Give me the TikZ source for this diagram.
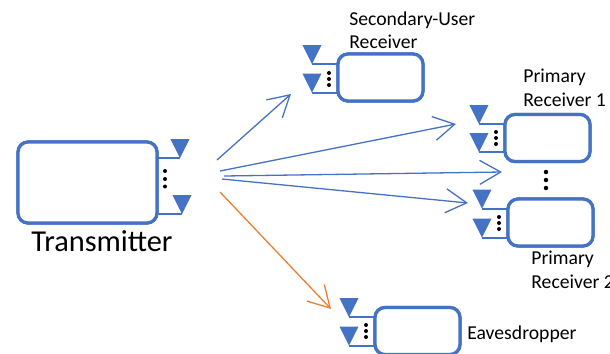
\documentclass[tikz,border=0pt]{standalone}
\usepackage{fontspec}
\setmainfont{Carlito}
\usetikzlibrary{arrows.meta}
\definecolor{boxblue}{HTML}{4472C4}
\definecolor{leakorange}{HTML}{ED7D31}
\begin{document}
\begin{tikzpicture}[x=0.02cm,y=-0.02cm,
	boxnode/.style={draw=boxblue,line width=0.065cm,rounded corners=0.2cm,fill=white,inner sep=0pt,minimum width=1.7cm,minimum height=0.94cm},
	wire/.style={draw=boxblue,line width=0.04cm},
	link/.style={line width=0.026cm,-{Straight Barb[length=0.42cm,width=0.48cm]}},
	lab/.style={inner sep=0pt,anchor=north west,align=left,font=\fontsize{11.2}{13.4}\selectfont}]
	\useasboundingbox (0,0) rectangle (610,353);
	% boxes
	\node [boxnode,minimum width=2.78cm,minimum height=1.62cm] (tx) at (87.5,182.5) {};
	\node [boxnode] (su) at (380.5,77.5) {};
	\node [boxnode] (pr1) at (547.5,138) {};
	\node [boxnode] (pr2) at (550.5,222.5) {};
	\node [boxnode] (eve) at (417.5,331) {};
	% antennas
	\foreach \name/\x/\y/\port in {txa/180/158/tx,txb/182/214/tx,sua/312/64/su,sub/312/92.5/su,pra/479/124/pr1,prb/479/152/pr1,pqa/482/208.5/pr2,pqb/482/237.5/pr2,eva/349/317/eve,evb/349/345.5/eve}{
		\coordinate (\name) at (\x,\y);
		\draw [wire] (\name) -- (\port.center |- \name);
		\fill [boxblue] (\x-9.5,\y-19) -- (\x+9.5,\y-19) -- (\x,\y) -- cycle;
	}
	% redraw box fronts over wires
	\node [boxnode,minimum width=2.78cm,minimum height=1.62cm] at (tx) {};
	\node [boxnode] at (su) {};
	\node [boxnode] at (pr1) {};
	\node [boxnode] at (pr2) {};
	\node [boxnode] at (eve) {};
	% dots
	\foreach \x/\y in {165/171,165/179,165/186.5,329/73,329/79,329/85,496/132,496/138,496/144,499/217,499/223,499/229,366/325,366/331,366/337}{
		\fill (\x,\y) circle (0.04cm);
	}
	\foreach \y in {172,180,188}{
		\fill (546,\y) circle (0.045cm);
	}
	% links
	\coordinate (s1) at (217,160);
	\coordinate (s2) at (220,171);
	\coordinate (s3) at (224,176);
	\coordinate (s4) at (222,179);
	\coordinate (s5) at (220,192);
	\coordinate (e1) at (291,94);
	\coordinate (e2) at (456,124);
	\coordinate (e3) at (502,172);
	\coordinate (e4) at (468,203);
	\coordinate (e5) at (331,309);
	\draw [link,boxblue] (s1) -- (e1);
	\draw [link,boxblue] (s2) -- (e2);
	\draw [link,boxblue] (s3) -- (e3);
	\draw [link,boxblue] (s4) -- (e4);
	\draw [link,leakorange] (s5) -- (e5);
	% labels
	\node [lab,font=\fontsize{17.3}{20}\selectfont] (txlab) at (31,230) {Transmitter};
	\node [lab] (sulab) at (349,11) {Secondary-User\\Receiver};
	\node [lab] (pr1lab) at (523,69) {Primary\\Receiver 1};
	\node [lab] (pr2lab) at (531,251) {Primary\\Receiver 2};
	\node [lab] (evelab) at (467,325) {Eavesdropper};
\end{tikzpicture}
\end{document}
